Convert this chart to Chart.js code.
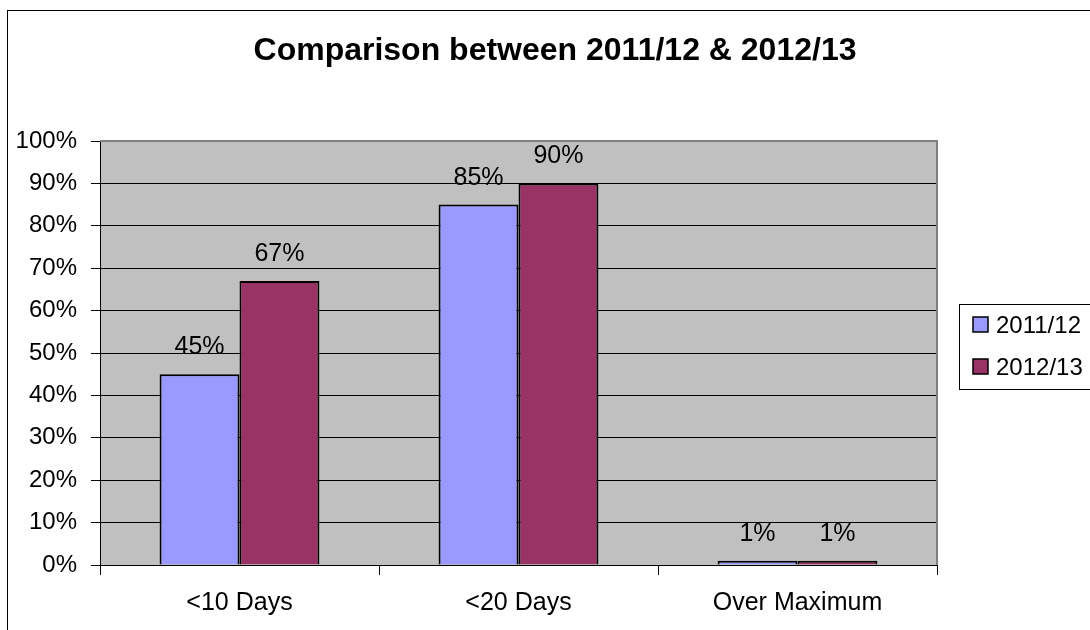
<!DOCTYPE html>
<html>
<head>
<meta charset="utf-8">
<script src="https://cdn.jsdelivr.net/npm/chart.js@4/dist/chart.umd.min.js"></script>
<style>
html,body{margin:0;padding:0;background:#fff;}
#wrap{width:1090px;height:630px;position:relative;}
</style>
</head>
<body>
<div id="wrap"><canvas id="c" width="1090" height="630"></canvas></div>
<script>
const titleText = "Comparison between 2011/12 & 2012/13";
const categories = ["<10 Days", "<20 Days", "Over Maximum"];
const seriesNames = ["2011/12", "2012/13"];
const values2011 = [45, 85, 1];
const values2012 = [67, 90, 1];
const yTicks = [0, 10, 20, 30, 40, 50, 60, 70, 80, 90, 100];
const seriesColors = ["#9999FF", "#993366"];

const FONT = "Arial, 'Liberation Sans', sans-serif";

const decor = {
  id: 'decor',
  beforeDraw(chart) {
    const {ctx, chartArea: a} = chart;
    ctx.save();
    ctx.fillStyle = '#fff';
    ctx.fillRect(0, 0, chart.width, chart.height);
    ctx.strokeStyle = '#000';
    ctx.lineWidth = 1;
    ctx.strokeRect(7.5, 10.5, 1200, 800);
    ctx.fillStyle = '#C0C0C0';
    ctx.fillRect(a.left, a.top, a.right - a.left, a.bottom - a.top);
    ctx.restore();
  },
  afterDraw(chart) {
    const {ctx, chartArea: a} = chart;
    ctx.save();
    ctx.strokeStyle = '#808080';
    ctx.lineWidth = 2;
    ctx.beginPath();
    ctx.moveTo(a.left, a.top);
    ctx.lineTo(a.right, a.top);
    ctx.lineTo(a.right, a.bottom);
    ctx.stroke();
    // title
    ctx.fillStyle = '#000';
    ctx.font = "bold 32px " + FONT;
    ctx.textAlign = 'center';
    ctx.textBaseline = 'middle';
    ctx.fillText(titleText, 555, 51);
    // legend
    ctx.strokeStyle = '#000';
    ctx.lineWidth = 1;
    ctx.strokeRect(959.5, 304.5, 200, 85);
    ctx.font = "24px " + FONT;
    ctx.textAlign = 'left';
    seriesNames.forEach((n, i) => {
      const y = 317 + i * 42;
      ctx.fillStyle = seriesColors[i];
      ctx.fillRect(973, y, 15, 15);
      ctx.strokeStyle = '#000';
      ctx.lineWidth = 1.5;
      ctx.strokeRect(973, y, 15, 15);
      ctx.fillStyle = '#000';
      ctx.fillText(n, 996, y + 9);
    });
    // data labels
    ctx.font = "25px " + FONT;
    ctx.textAlign = 'center';
    ctx.textBaseline = 'alphabetic';
    ctx.fillStyle = '#000';
    chart.data.datasets.forEach((ds, di) => {
      const meta = chart.getDatasetMeta(di);
      meta.data.forEach((bar, i) => {
        ctx.fillText(ds.data[i] + '%', bar.x, bar.y - 20);
      });
    });
    ctx.restore();
  }
};

new Chart(document.getElementById('c'), {
  type: 'bar',
  data: {
    labels: categories,
    datasets: [
      {label: seriesNames[0], data: values2011, backgroundColor: seriesColors[0], borderColor: '#000', borderWidth: 2},
      {label: seriesNames[1], data: values2012, backgroundColor: seriesColors[1], borderColor: '#000', borderWidth: 2}
    ]
  },
  options: {
    responsive: false,
    animation: false,
    devicePixelRatio: 1,
    layout: {padding: {left: 0, right: 153, top: 141, bottom: 0}},
    plugins: {legend: {display: false}, title: {display: false}, tooltip: {enabled: false}},
    datasets: {bar: {barPercentage: 1.0, categoryPercentage: 0.573}},
    scales: {
      x: {
        grid: {offset: true, drawOnChartArea: false, drawTicks: true, tickLength: 10, color: '#000', tickColor: '#000'},
        border: {color: '#000', width: 1},
        ticks: {color: '#000', font: {family: FONT, size: 25}, padding: 13, maxRotation: 0},
        afterFit(s) { s.height = 65; }
      },
      y: {
        min: 0, max: 100,
        afterBuildTicks(s) { s.ticks = yTicks.map(v => ({value: v})); },
        grid: {color: c => (c.tick && c.tick.value === 100) ? '#808080' : '#000', tickColor: '#000', tickLength: 9, drawTicks: true},
        border: {color: '#000', width: 1},
        ticks: {color: '#000', font: {family: FONT, size: 24}, padding: 14, callback: v => v + '%'},
        afterFit(s) { s.width = 100; }
      }
    }
  },
  plugins: [decor]
});
</script>
</body>
</html>
